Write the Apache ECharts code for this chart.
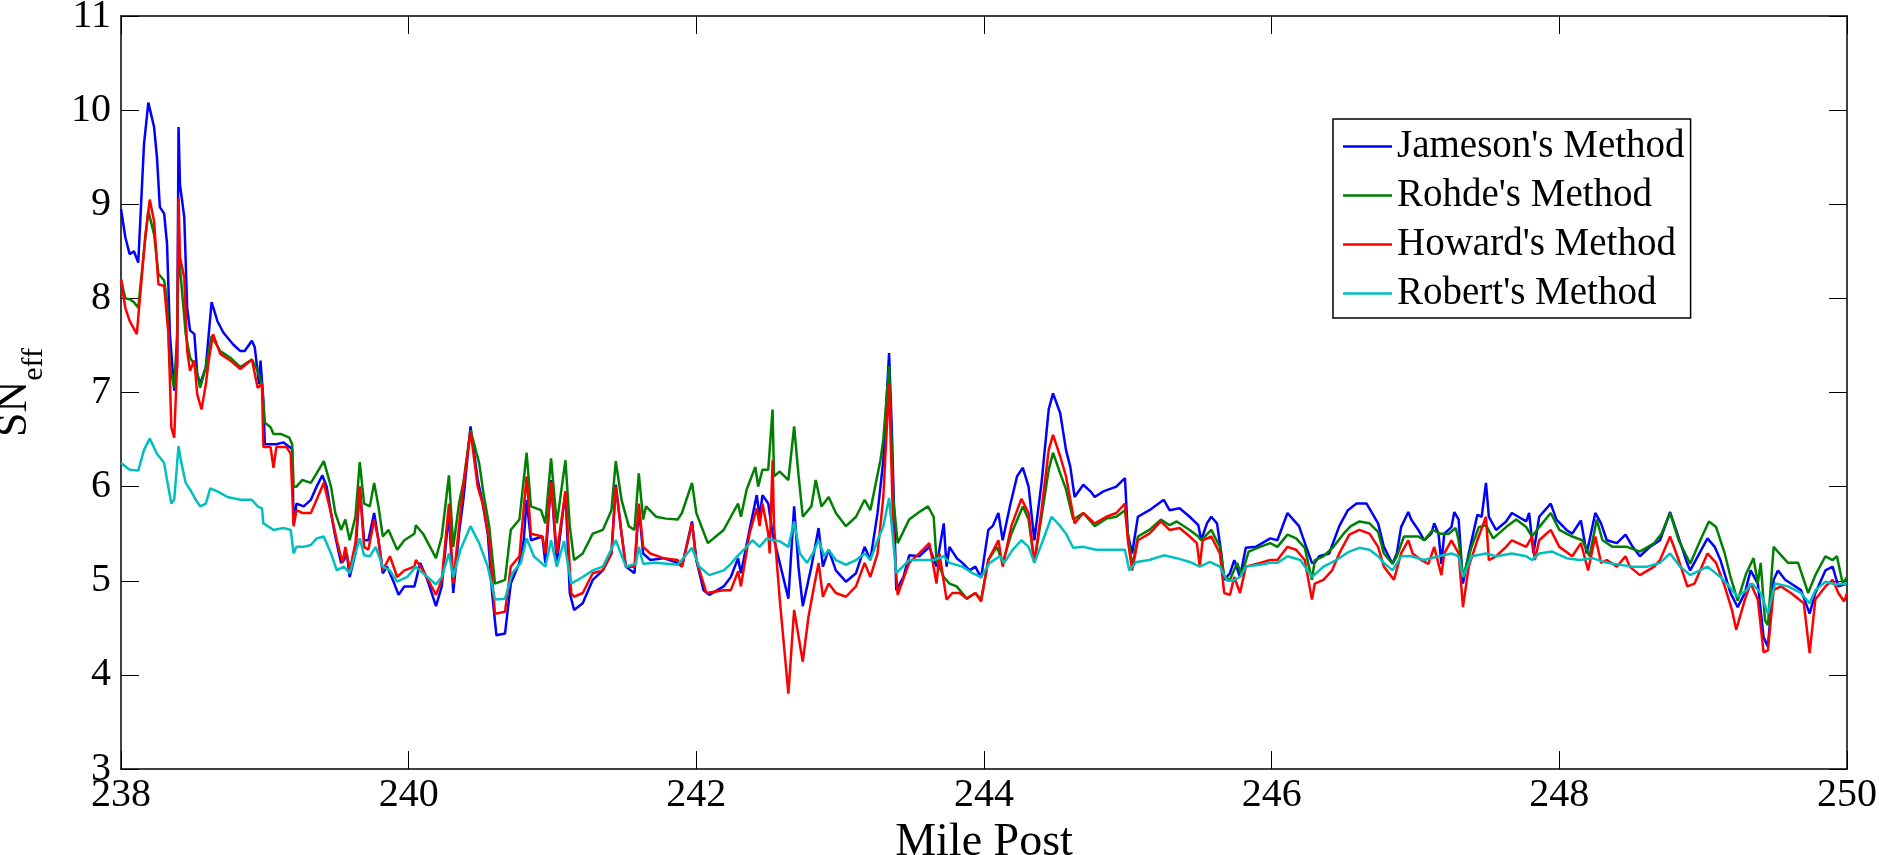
<!DOCTYPE html>
<html>
<head>
<meta charset="utf-8">
<title>SNeff vs Mile Post</title>
<script src="https://cdn.jsdelivr.net/npm/echarts@6/dist/echarts.min.js"></script>
<style>
  html, body { margin: 0; padding: 0; background: #fff; }
  #main { width: 1879px; height: 855px; }
</style>
</head>
<body>
<div id="main"></div>
<script>
// values: [mile post, SNeff]
const jameson = [
  [238.00, 8.95], [238.03, 8.65], [238.06, 8.47], [238.09, 8.50], [238.12, 8.38], [238.16, 9.64], [238.19, 10.08],
  [238.23, 9.82], [238.25, 9.50], [238.27, 8.97], [238.30, 8.90], [238.32, 8.58], [238.34, 7.62], [238.37, 7.02],
  [238.39, 7.27], [238.40, 9.82], [238.41, 9.21], [238.44, 8.86], [238.46, 7.90], [238.48, 7.66], [238.51, 7.62],
  [238.53, 7.20], [238.55, 7.09], [238.59, 7.27], [238.61, 7.62], [238.63, 7.96], [238.67, 7.76], [238.71, 7.64],
  [238.78, 7.51], [238.83, 7.44], [238.86, 7.44], [238.91, 7.55], [238.93, 7.48], [238.96, 7.09], [238.97, 7.34],
  [238.99, 6.91], [239.00, 6.45], [239.04, 6.45], [239.08, 6.45], [239.13, 6.47], [239.19, 6.40], [239.20, 5.60],
  [239.22, 5.82], [239.27, 5.79], [239.32, 5.86], [239.36, 6.00], [239.40, 6.12], [239.43, 6.00], [239.46, 5.72],
  [239.49, 5.47], [239.53, 5.19], [239.55, 5.22], [239.57, 5.29], [239.59, 5.04], [239.63, 5.29], [239.66, 6.00],
  [239.69, 5.43], [239.72, 5.43], [239.76, 5.72], [239.79, 5.43], [239.82, 5.08], [239.85, 5.15], [239.90, 4.97],
  [239.93, 4.85], [239.97, 4.94], [240.04, 4.94], [240.08, 5.19], [240.13, 5.01], [240.19, 4.73], [240.23, 4.94],
  [240.28, 5.72], [240.31, 4.87], [240.35, 5.50], [240.38, 5.86], [240.43, 6.64], [240.48, 6.07], [240.51, 5.86],
  [240.55, 5.50], [240.58, 4.87], [240.61, 4.42], [240.67, 4.44], [240.71, 4.97], [240.77, 5.19], [240.80, 5.43],
  [240.82, 5.86], [240.85, 5.43], [240.93, 5.47], [240.95, 5.19], [240.99, 6.07], [241.03, 5.19], [241.09, 5.95],
  [241.12, 4.87], [241.15, 4.69], [241.21, 4.76], [241.28, 5.01], [241.35, 5.11], [241.41, 5.29], [241.44, 6.02],
  [241.48, 5.50], [241.51, 5.15], [241.57, 5.08], [241.60, 5.79], [241.63, 5.29], [241.68, 5.22], [241.77, 5.24],
  [241.87, 5.19], [241.90, 5.15], [241.97, 5.63], [242.00, 5.22], [242.05, 4.90], [242.09, 4.85], [242.19, 4.94],
  [242.24, 5.04], [242.29, 5.24], [242.31, 5.08], [242.37, 5.54], [242.42, 5.91], [242.44, 5.68], [242.46, 5.91],
  [242.50, 5.82], [242.53, 5.50], [242.58, 5.19], [242.64, 4.81], [242.68, 5.79], [242.71, 5.15], [242.74, 4.73],
  [242.80, 5.15], [242.85, 5.56], [242.88, 5.15], [242.92, 5.33], [242.97, 5.11], [243.04, 4.99], [243.11, 5.08],
  [243.17, 5.36], [243.21, 5.22], [243.26, 5.72], [243.30, 6.28], [243.34, 7.42], [243.36, 6.57], [243.39, 4.90],
  [243.44, 5.04], [243.48, 5.27], [243.55, 5.26], [243.62, 5.36], [243.67, 5.15], [243.72, 5.61], [243.74, 5.15],
  [243.76, 5.36], [243.81, 5.24], [243.85, 5.19], [243.90, 5.11], [243.94, 5.15], [243.98, 5.03], [244.03, 5.54],
  [244.06, 5.58], [244.10, 5.72], [244.13, 5.43], [244.18, 5.79], [244.23, 6.11], [244.27, 6.20], [244.31, 6.00],
  [244.35, 5.43], [244.40, 6.04], [244.45, 6.82], [244.48, 6.99], [244.53, 6.78], [244.57, 6.39], [244.60, 6.21],
  [244.63, 5.89], [244.69, 6.02], [244.74, 5.95], [244.77, 5.89], [244.83, 5.95], [244.92, 6.00], [244.98, 6.09],
  [245.00, 5.50], [245.03, 5.29], [245.07, 5.68], [245.15, 5.75], [245.25, 5.86], [245.29, 5.75], [245.36, 5.77],
  [245.43, 5.68], [245.49, 5.59], [245.51, 5.43], [245.55, 5.61], [245.58, 5.68], [245.62, 5.61], [245.65, 5.29],
  [245.67, 5.01], [245.71, 5.08], [245.74, 5.22], [245.78, 5.04], [245.82, 5.35], [245.89, 5.36], [245.99, 5.45],
  [246.04, 5.43], [246.11, 5.72], [246.15, 5.65], [246.19, 5.58], [246.24, 5.36], [246.28, 5.19], [246.30, 5.19],
  [246.33, 5.26], [246.40, 5.29], [246.47, 5.58], [246.53, 5.75], [246.59, 5.82], [246.66, 5.82], [246.74, 5.61],
  [246.78, 5.36], [246.84, 5.18], [246.87, 5.29], [246.90, 5.57], [246.95, 5.73], [246.97, 5.65], [247.02, 5.54],
  [247.06, 5.43], [247.11, 5.50], [247.13, 5.61], [247.16, 5.50], [247.18, 5.18], [247.20, 5.50], [247.25, 5.57],
  [247.27, 5.73], [247.30, 5.65], [247.33, 4.97], [247.37, 5.29], [247.43, 5.70], [247.46, 5.68], [247.49, 6.04],
  [247.51, 5.68], [247.56, 5.54], [247.63, 5.63], [247.67, 5.72], [247.77, 5.63], [247.79, 5.72], [247.82, 5.29],
  [247.86, 5.68], [247.94, 5.82], [247.98, 5.65], [248.05, 5.54], [248.09, 5.50], [248.15, 5.64], [248.19, 5.29],
  [248.25, 5.72], [248.29, 5.61], [248.33, 5.43], [248.40, 5.40], [248.46, 5.49], [248.51, 5.36], [248.56, 5.26],
  [248.63, 5.36], [248.70, 5.43], [248.77, 5.73], [248.82, 5.50], [248.89, 5.18], [248.91, 5.11], [249.03, 5.45],
  [249.08, 5.36], [249.12, 5.22], [249.19, 4.87], [249.24, 4.72], [249.29, 4.87], [249.33, 5.11], [249.38, 4.97],
  [249.42, 4.40], [249.45, 4.30], [249.49, 5.01], [249.52, 5.11], [249.57, 5.01], [249.61, 4.97], [249.68, 4.90],
  [249.74, 4.65], [249.78, 4.87], [249.85, 5.11], [249.90, 5.15], [249.94, 4.94], [250.00, 4.97]
];

const rohde = [
  [238.00, 8.20], [238.03, 8.00], [238.06, 7.99], [238.09, 7.96], [238.12, 7.90], [238.16, 8.51], [238.19, 8.93],
  [238.23, 8.68], [238.26, 8.26], [238.30, 8.19], [238.32, 7.97], [238.34, 7.27], [238.37, 7.05], [238.39, 7.62],
  [238.40, 8.47], [238.41, 8.33], [238.45, 7.62], [238.48, 7.37], [238.52, 7.27], [238.55, 7.05], [238.59, 7.27],
  [238.63, 7.60], [238.69, 7.44], [238.76, 7.37], [238.83, 7.27], [238.91, 7.35], [238.95, 7.23], [238.98, 7.09],
  [239.00, 6.68], [239.04, 6.63], [239.06, 6.56], [239.11, 6.56], [239.17, 6.52], [239.19, 6.45], [239.20, 6.00],
  [239.22, 6.00], [239.26, 6.07], [239.32, 6.04], [239.36, 6.14], [239.41, 6.27], [239.46, 6.00], [239.49, 5.72],
  [239.53, 5.54], [239.56, 5.65], [239.59, 5.43], [239.63, 5.68], [239.66, 6.26], [239.69, 5.82], [239.73, 5.79],
  [239.76, 6.04], [239.79, 5.79], [239.82, 5.47], [239.86, 5.54], [239.92, 5.33], [239.97, 5.43], [240.04, 5.50],
  [240.05, 5.59], [240.10, 5.50], [240.19, 5.24], [240.23, 5.47], [240.28, 6.12], [240.31, 5.36], [240.35, 5.82],
  [240.38, 6.04], [240.43, 6.60], [240.49, 6.25], [240.52, 5.93], [240.56, 5.58], [240.60, 4.97], [240.67, 5.01],
  [240.71, 5.54], [240.77, 5.65], [240.82, 6.36], [240.85, 5.79], [240.92, 5.75], [240.95, 5.61], [240.99, 6.30],
  [241.03, 5.61], [241.09, 6.28], [241.12, 5.58], [241.15, 5.22], [241.21, 5.29], [241.28, 5.50], [241.35, 5.54],
  [241.41, 5.75], [241.44, 6.27], [241.48, 5.86], [241.53, 5.58], [241.57, 5.54], [241.60, 6.14], [241.63, 5.65],
  [241.65, 5.79], [241.72, 5.68], [241.79, 5.66], [241.87, 5.65], [241.90, 5.72], [241.97, 6.04], [242.00, 5.72],
  [242.08, 5.40], [242.19, 5.54], [242.24, 5.68], [242.29, 5.82], [242.31, 5.68], [242.35, 5.97], [242.41, 6.21],
  [242.43, 6.00], [242.46, 6.18], [242.50, 6.18], [242.53, 6.82], [242.54, 6.11], [242.58, 6.16], [242.64, 6.07],
  [242.68, 6.64], [242.71, 6.13], [242.74, 5.68], [242.80, 5.79], [242.83, 6.07], [242.87, 5.79], [242.92, 5.89],
  [242.97, 5.72], [243.04, 5.58], [243.11, 5.68], [243.17, 5.86], [243.21, 5.75], [243.28, 6.28], [243.30, 6.50],
  [243.34, 7.28], [243.37, 5.86], [243.40, 5.40], [243.48, 5.65], [243.55, 5.73], [243.61, 5.79], [243.65, 5.68],
  [243.67, 5.22], [243.72, 5.04], [243.76, 4.97], [243.81, 4.94], [243.88, 4.81], [243.94, 4.87], [243.98, 4.80],
  [244.03, 5.22], [244.09, 5.36], [244.13, 5.19], [244.19, 5.50], [244.27, 5.79], [244.31, 5.65], [244.35, 5.19],
  [244.40, 5.68], [244.45, 6.18], [244.48, 6.36], [244.53, 6.14], [244.57, 5.97], [244.62, 5.65], [244.69, 5.72],
  [244.77, 5.58], [244.85, 5.66], [244.92, 5.68], [244.98, 5.75], [245.00, 5.50], [245.03, 5.15], [245.07, 5.47],
  [245.15, 5.54], [245.23, 5.65], [245.29, 5.59], [245.34, 5.63], [245.43, 5.54], [245.49, 5.47], [245.51, 5.43],
  [245.58, 5.54], [245.64, 5.36], [245.67, 5.04], [245.71, 5.01], [245.76, 5.19], [245.79, 5.06], [245.84, 5.31],
  [245.92, 5.36], [245.99, 5.40], [246.04, 5.36], [246.11, 5.49], [246.17, 5.45], [246.23, 5.35], [246.28, 5.01],
  [246.30, 5.22], [246.36, 5.26], [246.43, 5.36], [246.50, 5.50], [246.55, 5.58], [246.61, 5.63], [246.68, 5.61],
  [246.74, 5.52], [246.78, 5.29], [246.84, 5.18], [246.87, 5.26], [246.92, 5.47], [247.02, 5.47], [247.06, 5.43],
  [247.12, 5.54], [247.17, 5.50], [247.23, 5.50], [247.28, 5.56], [247.30, 5.43], [247.33, 5.04], [247.39, 5.36],
  [247.44, 5.57], [247.49, 5.59], [247.54, 5.45], [247.63, 5.57], [247.70, 5.65], [247.77, 5.57], [247.81, 5.47],
  [247.86, 5.57], [247.94, 5.72], [248.00, 5.54], [248.09, 5.47], [248.16, 5.43], [248.21, 5.26], [248.26, 5.65],
  [248.30, 5.43], [248.37, 5.36], [248.47, 5.36], [248.56, 5.31], [248.66, 5.40], [248.71, 5.50], [248.77, 5.72],
  [248.83, 5.43], [248.91, 5.18], [248.98, 5.43], [249.04, 5.63], [249.09, 5.57], [249.15, 5.29], [249.19, 5.04],
  [249.24, 4.79], [249.30, 5.08], [249.35, 5.24], [249.38, 4.97], [249.40, 5.19], [249.43, 4.58], [249.45, 4.53],
  [249.49, 5.36], [249.53, 5.29], [249.59, 5.19], [249.66, 5.19], [249.73, 4.87], [249.78, 5.06], [249.85, 5.26],
  [249.90, 5.22], [249.93, 5.26], [249.97, 4.97], [250.00, 5.04]
];

const howard = [
  [238.00, 8.20], [238.03, 7.90], [238.06, 7.76], [238.11, 7.62], [238.12, 7.60], [238.17, 8.68], [238.20, 9.05],
  [238.23, 8.82], [238.26, 8.15], [238.30, 8.13], [238.33, 7.62], [238.35, 6.63], [238.37, 6.52], [238.39, 7.30],
  [238.40, 9.07], [238.41, 8.44], [238.44, 8.22], [238.46, 7.44], [238.48, 7.23], [238.51, 7.34], [238.53, 6.98],
  [238.56, 6.82], [238.59, 7.09], [238.61, 7.34], [238.64, 7.62], [238.69, 7.41], [238.76, 7.34], [238.83, 7.25],
  [238.91, 7.35], [238.95, 7.05], [238.98, 7.09], [238.99, 6.42], [239.04, 6.42], [239.06, 6.20], [239.08, 6.42],
  [239.15, 6.42], [239.18, 6.35], [239.20, 5.58], [239.22, 5.75], [239.26, 5.72], [239.32, 5.72], [239.36, 5.86],
  [239.41, 6.04], [239.46, 5.72], [239.50, 5.43], [239.54, 5.19], [239.56, 5.36], [239.59, 5.11], [239.63, 5.40],
  [239.66, 6.00], [239.69, 5.36], [239.72, 5.33], [239.76, 5.65], [239.79, 5.43], [239.82, 5.11], [239.87, 5.26],
  [239.92, 5.04], [239.97, 5.11], [240.04, 5.15], [240.05, 5.22], [240.10, 5.11], [240.19, 4.85], [240.23, 5.01],
  [240.28, 5.82], [240.31, 4.97], [240.35, 5.58], [240.38, 6.00], [240.43, 6.59], [240.48, 6.00], [240.52, 5.79],
  [240.56, 5.43], [240.60, 4.65], [240.67, 4.67], [240.71, 5.15], [240.77, 5.26], [240.82, 6.11], [240.85, 5.50],
  [240.93, 5.47], [240.95, 5.29], [240.99, 6.05], [241.03, 5.29], [241.09, 5.95], [241.13, 4.87], [241.15, 4.83],
  [241.21, 4.87], [241.28, 5.08], [241.35, 5.11], [241.41, 5.29], [241.44, 6.00], [241.48, 5.50], [241.51, 5.15],
  [241.57, 5.15], [241.60, 5.82], [241.63, 5.36], [241.68, 5.29], [241.77, 5.24], [241.87, 5.22], [241.90, 5.15],
  [241.97, 5.61], [242.00, 5.22], [242.07, 4.87], [242.19, 4.90], [242.24, 4.90], [242.29, 5.10], [242.31, 4.94],
  [242.37, 5.50], [242.42, 5.77], [242.44, 5.58], [242.46, 5.82], [242.50, 5.50], [242.51, 5.29], [242.53, 6.28],
  [242.54, 5.58], [242.58, 4.80], [242.64, 3.80], [242.68, 4.69], [242.74, 4.14], [242.78, 4.62], [242.81, 4.87],
  [242.85, 5.19], [242.88, 4.83], [242.92, 4.97], [242.97, 4.87], [243.04, 4.83], [243.11, 4.94], [243.17, 5.19],
  [243.21, 5.04], [243.26, 5.29], [243.30, 5.89], [243.34, 7.10], [243.37, 5.50], [243.40, 4.85], [243.48, 5.19],
  [243.55, 5.29], [243.62, 5.40], [243.67, 4.97], [243.69, 5.29], [243.74, 4.80], [243.78, 4.87], [243.83, 4.87],
  [243.88, 4.81], [243.94, 4.87], [243.98, 4.78], [244.03, 5.22], [244.10, 5.43], [244.13, 5.15], [244.19, 5.58],
  [244.26, 5.87], [244.31, 5.72], [244.35, 5.19], [244.40, 5.75], [244.45, 6.39], [244.48, 6.55], [244.53, 6.32],
  [244.57, 6.11], [244.63, 5.61], [244.69, 5.72], [244.77, 5.61], [244.85, 5.68], [244.92, 5.72], [244.98, 5.82],
  [245.00, 5.43], [245.03, 5.11], [245.07, 5.43], [245.15, 5.50], [245.23, 5.63], [245.29, 5.54], [245.36, 5.56],
  [245.43, 5.47], [245.48, 5.40], [245.50, 5.15], [245.52, 5.43], [245.58, 5.47], [245.64, 5.29], [245.67, 4.87],
  [245.71, 4.85], [245.74, 5.04], [245.78, 4.87], [245.82, 5.15], [245.92, 5.19], [245.99, 5.22], [246.04, 5.22],
  [246.11, 5.36], [246.17, 5.33], [246.23, 5.22], [246.28, 4.80], [246.30, 4.97], [246.36, 5.01], [246.42, 5.11],
  [246.47, 5.29], [246.54, 5.49], [246.61, 5.54], [246.68, 5.50], [246.74, 5.36], [246.78, 5.15], [246.85, 5.01],
  [246.90, 5.29], [246.95, 5.43], [246.98, 5.29], [247.04, 5.22], [247.09, 5.18], [247.13, 5.36], [247.18, 5.06],
  [247.20, 5.29], [247.25, 5.43], [247.30, 5.29], [247.33, 4.72], [247.37, 5.15], [247.43, 5.43], [247.49, 5.68],
  [247.51, 5.22], [247.56, 5.26], [247.63, 5.36], [247.67, 5.43], [247.77, 5.36], [247.81, 5.47], [247.83, 5.22],
  [247.86, 5.43], [247.94, 5.54], [248.00, 5.36], [248.09, 5.26], [248.15, 5.40], [248.20, 5.11], [248.25, 5.47],
  [248.29, 5.19], [248.33, 5.22], [248.40, 5.15], [248.46, 5.26], [248.49, 5.15], [248.56, 5.06], [248.66, 5.15],
  [248.70, 5.22], [248.77, 5.47], [248.83, 5.22], [248.89, 4.94], [248.94, 4.97], [249.03, 5.29], [249.09, 5.19],
  [249.15, 4.94], [249.20, 4.69], [249.23, 4.48], [249.29, 4.80], [249.33, 4.97], [249.38, 4.80], [249.42, 4.24],
  [249.45, 4.26], [249.49, 4.90], [249.54, 4.94], [249.61, 4.87], [249.70, 4.76], [249.74, 4.23], [249.78, 4.80],
  [249.85, 4.94], [249.90, 5.01], [249.94, 4.87], [249.98, 4.78], [250.00, 4.87]
];

const robert = [
  [238.00, 6.25], [238.06, 6.18], [238.12, 6.17], [238.16, 6.39], [238.20, 6.51], [238.25, 6.35], [238.30, 6.25],
  [238.32, 6.07], [238.35, 5.82], [238.37, 5.86], [238.40, 6.43], [238.42, 6.25], [238.45, 6.04], [238.48, 5.97],
  [238.52, 5.86], [238.55, 5.79], [238.59, 5.82], [238.62, 5.98], [238.67, 5.95], [238.74, 5.89], [238.83, 5.86],
  [238.91, 5.86], [238.95, 5.79], [238.98, 5.77], [238.99, 5.61], [239.04, 5.56], [239.06, 5.54], [239.13, 5.56],
  [239.18, 5.54], [239.20, 5.29], [239.22, 5.36], [239.27, 5.36], [239.32, 5.38], [239.36, 5.45], [239.41, 5.47],
  [239.46, 5.29], [239.50, 5.11], [239.55, 5.15], [239.59, 5.08], [239.66, 5.45], [239.69, 5.27], [239.73, 5.26],
  [239.77, 5.36], [239.82, 5.15], [239.87, 5.11], [239.92, 4.99], [239.99, 5.04], [240.05, 5.15], [240.10, 5.08],
  [240.19, 4.96], [240.23, 5.04], [240.28, 5.29], [240.31, 5.04], [240.36, 5.33], [240.43, 5.58], [240.49, 5.40],
  [240.55, 5.15], [240.60, 4.80], [240.67, 4.81], [240.72, 5.08], [240.78, 5.19], [240.82, 5.45], [240.87, 5.26],
  [240.95, 5.15], [240.99, 5.43], [241.03, 5.15], [241.08, 5.42], [241.13, 4.97], [241.21, 5.04], [241.28, 5.11],
  [241.35, 5.15], [241.44, 5.43], [241.51, 5.15], [241.58, 5.18], [241.60, 5.36], [241.63, 5.18], [241.72, 5.19],
  [241.87, 5.17], [241.97, 5.35], [242.02, 5.15], [242.09, 5.06], [242.19, 5.11], [242.24, 5.18], [242.29, 5.27],
  [242.35, 5.36], [242.39, 5.43], [242.44, 5.36], [242.49, 5.45], [242.53, 5.43], [242.58, 5.42], [242.64, 5.36],
  [242.68, 5.63], [242.72, 5.29], [242.77, 5.19], [242.81, 5.29], [242.85, 5.43], [242.89, 5.26], [242.92, 5.33],
  [242.97, 5.22], [243.04, 5.17], [243.11, 5.22], [243.17, 5.29], [243.21, 5.22], [243.26, 5.43], [243.30, 5.58],
  [243.34, 5.88], [243.39, 5.08], [243.48, 5.22], [243.55, 5.22], [243.65, 5.22], [243.72, 5.26], [243.76, 5.19],
  [243.85, 5.15], [243.92, 5.08], [243.98, 5.04], [244.04, 5.19], [244.11, 5.26], [244.14, 5.19], [244.20, 5.33],
  [244.26, 5.43], [244.31, 5.36], [244.35, 5.19], [244.41, 5.43], [244.47, 5.68], [244.53, 5.58], [244.57, 5.50],
  [244.62, 5.35], [244.69, 5.36], [244.78, 5.33], [244.87, 5.33], [244.98, 5.33], [245.01, 5.11], [245.06, 5.20],
  [245.15, 5.22], [245.25, 5.27], [245.34, 5.24], [245.43, 5.20], [245.50, 5.15], [245.57, 5.20], [245.64, 5.15],
  [245.69, 5.00], [245.73, 5.00], [245.78, 5.04], [245.82, 5.15], [245.92, 5.17], [245.99, 5.19], [246.04, 5.19],
  [246.11, 5.26], [246.20, 5.22], [246.28, 5.04], [246.36, 5.15], [246.45, 5.22], [246.54, 5.31], [246.61, 5.35],
  [246.68, 5.33], [246.74, 5.26], [246.78, 5.19], [246.84, 5.11], [246.90, 5.26], [246.97, 5.26], [247.06, 5.22],
  [247.16, 5.26], [247.25, 5.29], [247.30, 5.26], [247.33, 5.04], [247.39, 5.26], [247.49, 5.29], [247.56, 5.26],
  [247.67, 5.29], [247.77, 5.26], [247.81, 5.22], [247.86, 5.29], [247.95, 5.31], [248.05, 5.24], [248.14, 5.22],
  [248.23, 5.24], [248.33, 5.19], [248.42, 5.17], [248.51, 5.15], [248.61, 5.15], [248.70, 5.19], [248.77, 5.29],
  [248.84, 5.15], [248.91, 5.06], [249.03, 5.15], [249.12, 5.04], [249.18, 4.94], [249.24, 4.83], [249.30, 4.90],
  [249.34, 4.97], [249.40, 4.87], [249.45, 4.65], [249.50, 4.97], [249.59, 4.94], [249.68, 4.87], [249.74, 4.76],
  [249.78, 4.90], [249.85, 4.99], [249.92, 4.96], [250.00, 4.97]
];

const seriesNames = ["Jameson's Method", "Rohde's Method", "Howard's Method", "Robert's Method"];
const seriesColors = ['#0000ff', '#008000', '#ff0000', '#00bfbf'];
const xMin = 238, xMax = 250, xStep = 2;
const yMin = 3, yMax = 11, yStep = 1;

const FONT = 'Liberation Serif';
const chart = echarts.init(document.getElementById('main'));

// frame axes (top / right) only carry ticks
function frameAxis (pos) {
  return {
    type: 'value',
    position: pos,
    min: pos === 'top' ? xMin : yMin,
    max: pos === 'top' ? xMax : yMax,
    interval: pos === 'top' ? xStep : yStep,
    axisLine: { show: true, onZero: false, lineStyle: { color: '#000', width: 1.5 } },
    axisTick: { show: true, inside: true, length: 18, lineStyle: { color: '#000', width: 1 } },
    axisLabel: { show: false },
    splitLine: { show: false }
  };
}

const allData = [jameson, rohde, howard, robert];

const option = {
  backgroundColor: '#fff',
  animation: false,
  grid: { left: 121, right: 32, top: 16, bottom: 86, outerBoundsMode: 'none', containLabel: false },
  legend: {
    orient: 'vertical',
    left: 1333,
    top: 119,
    padding: [8, 6, 5, 10],
    backgroundColor: '#fff',
    borderColor: '#000',
    borderWidth: 1.5,
    borderRadius: 0,
    icon: 'path://M0,0 L40,0 L40,2 L0,2 Z',
    itemWidth: 49,
    itemHeight: 2.5,
    itemGap: 10,
    textStyle: { fontFamily: FONT, fontSize: 39, lineHeight: 39, color: '#000' },
    data: seriesNames
  },
  xAxis: [
    {
      type: 'value',
      min: xMin,
      max: xMax,
      interval: xStep,
      name: 'Mile Post',
      nameLocation: 'middle',
      nameGap: 43,
      nameTextStyle: { fontFamily: FONT, fontSize: 46, color: '#000' },
      axisLine: { show: true, onZero: false, lineStyle: { color: '#000', width: 1.5 } },
      axisTick: { show: true, inside: true, length: 18, lineStyle: { color: '#000', width: 1 } },
      axisLabel: { fontFamily: FONT, fontSize: 40, color: '#000', margin: 6 },
      splitLine: { show: false }
    },
    frameAxis('top')
  ],
  yAxis: [
    {
      type: 'value',
      min: yMin,
      max: yMax,
      interval: yStep,
      name: '{a|SN}{b|eff}',
      nameLocation: 'middle',
      nameRotate: 90,
      nameGap: 72,
      nameTextStyle: {
        color: '#000',
        rich: {
          a: { fontFamily: FONT, fontSize: 44, color: '#000' },
          b: { fontFamily: FONT, fontSize: 30, color: '#000', padding: [40, 0, 0, 0] }
        }
      },
      axisLine: { show: true, onZero: false, lineStyle: { color: '#000', width: 1.5 } },
      axisTick: { show: true, inside: true, length: 18, lineStyle: { color: '#000', width: 1 } },
      axisLabel: { fontFamily: FONT, fontSize: 40, color: '#000', margin: 10 },
      splitLine: { show: false }
    },
    frameAxis('right')
  ],
  series: seriesNames.map((name, i) => ({
    name: name,
    type: 'line',
    xAxisIndex: 0,
    yAxisIndex: 0,
    data: allData[i],
    symbol: 'none',
    lineStyle: { color: seriesColors[i], width: 2.5 },
    itemStyle: { color: seriesColors[i] }
  }))
};

chart.setOption(option);
</script>
</body>
</html>
